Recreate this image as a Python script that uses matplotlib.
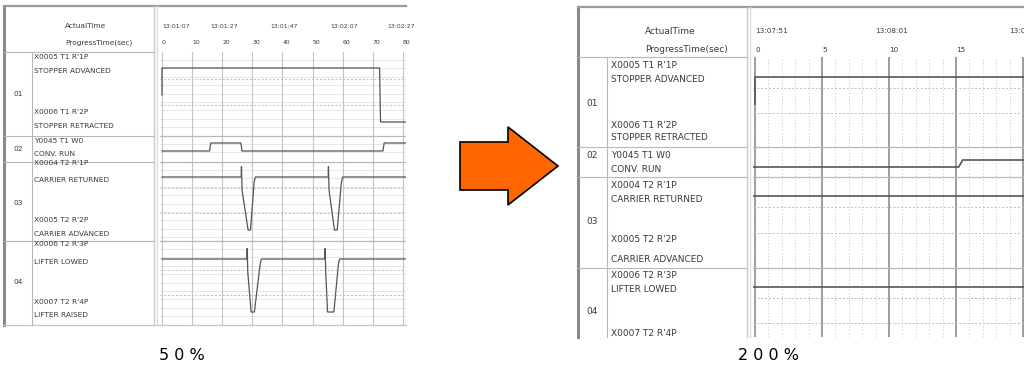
import numpy as np
import matplotlib.pyplot as plt
from matplotlib.patches import Polygon

W, H = 1024, 365

# ---- data ----
row_ids = ["01", "02", "03", "04"]

left_ticks = [0, 10, 20, 30, 40, 50, 60, 70, 80]
left_clock_pos = [0, 16, 36, 56, 75]
left_clock = ["13:01:07", "13:01:27", "13:01:47", "13:02:07", "13:02:27"]
left_labels = [
    ["X0005 T1 R'1P", "STOPPER ADVANCED", "X0006 T1 R'2P", "STOPPER RETRACTED"],
    ["Y0045 T1 W0", "CONV. RUN"],
    ["X0004 T2 R'1P", "CARRIER RETURNED", "X0005 T2 R'2P", "CARRIER ADVANCED"],
    ["X0006 T2 R'3P", "LIFTER LOWED", "X0007 T2 R'4P", "LIFTER RAISED"],
]
right_ticks = [0, 5, 10, 15, 20]
right_clock_pos = [0, 9, 19]
right_clock = ["13:07:51", "13:08:01", "13:08:11"]
right_labels = [
    ["X0005 T1 R'1P", "STOPPER ADVANCED", "X0006 T1 R'2P", "STOPPER RETRACTED"],
    ["Y0045 T1 W0", "CONV. RUN"],
    ["X0004 T2 R'1P", "CARRIER RETURNED", "X0005 T2 R'2P", "CARRIER ADVANCED"],
    ["X0006 T2 R'3P", "LIFTER LOWED", "X0007 T2 R'4P", "LIFTER RAISED"],
]

# signal traces: time (sec) and state (1 = upper label, 0 = lower label)
l_stop_t = [0, 0, 72.3, 72.6, 82]
l_stop_s = [0.5, 1, 1, 0, 0]
l_conv_t = [0, 15.8, 16.2, 26.2, 26.6, 73.4, 73.8, 82]
l_conv_s = [0, 0, 1, 1, 0, 0, 1, 1]
l_carr_t = [0, 26.3, 26.4, 26.6, 28.6, 29.4, 30.6, 31.0, 55.2, 55.3, 55.5, 57.3, 58.2, 59.6, 60.0, 82]
l_carr_s = [1, 1, 1.2, 0.75, 0, 0, 0.9, 1, 1, 1.2, 0.75, 0, 0, 0.9, 1, 1]
l_lift_t = [0, 28.2, 28.3, 28.5, 29.6, 30.7, 32.6, 33.0, 54.1, 54.2, 54.4, 55.0, 57.1, 58.6, 59.0, 82]
l_lift_s = [1, 1, 1.2, 0.75, 0, 0, 0.9, 1, 1, 1.2, 0.75, 0, 0, 0.9, 1, 1]

r_stop_t = [0, 0, 21]
r_stop_s = [0.5, 1, 1]
r_conv_t = [-0.2, 15.2, 15.5, 21]
r_conv_s = [0, 0, 1, 1]
r_carr_t = [-0.2, 21]
r_carr_s = [1, 1]
r_lift_t = [-0.2, 21]
r_lift_s = [1, 1]

left_sig = [(l_stop_t, l_stop_s), (l_conv_t, l_conv_s), (l_carr_t, l_carr_s), (l_lift_t, l_lift_s)]
right_sig = [(r_stop_t, r_stop_s), (r_conv_t, r_conv_s), (r_carr_t, r_carr_s), (r_lift_t, r_lift_s)]

# ---- screen layout (pixels) ----
left_lay = dict(x0=4, x1=406, y0=6, y1=325, numcol=32, sep=154, cx0=160, hb=52,
                rows=[52, 136, 162, 241, 325],
                levels=[(68, 122), (143, 151), (177, 230), (259, 312)],
                lines=[[57, 71, 112, 126], [141, 154], [163, 180, 220, 234], [244, 262, 302, 315]],
                numy=[94, 149, 203, 282], tx=34, hx=65, hy=(26, 43),
                t0=162, pps=3.01, fs=5.3, cfs=4.4, grid_major=10, grid_minor=None,
                ticks=left_ticks, clock_pos=left_clock_pos, clock=left_clock,
                labels=left_labels, sig=left_sig, lw=0.9, bottom=True)
right_lay = dict(x0=578, x1=1024, y0=7, y1=337, numcol=607, sep=747, cx0=753, hb=57,
                 rows=[57, 147, 177, 268, 337],
                 levels=[(77, 130), (160, 167), (196, 250), (287, 340)],
                 lines=[[65, 80, 125, 138], [155, 170], [185, 200, 240, 260], [275, 289, 333, 346]],
                 numy=[103, 155, 222, 312], tx=611, hx=645, hy=(31, 50),
                 t0=755, pps=13.4, fs=6.5, cfs=5.2, grid_major=5, grid_minor=1,
                 ticks=right_ticks, clock_pos=right_clock_pos, clock=right_clock,
                 labels=right_labels, sig=right_sig, lw=1.2, bottom=False)

fig = plt.figure(figsize=(W / 100, H / 100), dpi=100)
bg = fig.add_axes([0, 0, 1, 1])
bg.set_xlim(0, W)
bg.set_ylim(H, 0)
bg.axis('off')

txt = '#3a3a3a'
frame = '#b8b8b8'


def draw_panel(L):
    # outer frame
    bg.plot([L['x0'], L['x0']], [L['y0'], L['y1']], color='#8a8a8a', lw=2.2)
    bg.plot([L['x0'], L['x1']], [L['y0'], L['y0']], color='#9a9a9a', lw=1.6)
    if L['bottom']:
        bg.plot([L['x0'], L['x1']], [L['y1'], L['y1']], color='#c8c8c8', lw=1.0)
    # label column separators
    bg.plot([L['sep'], L['sep']], [L['y0'], L['y1']], color='#c8c8c8', lw=1.0)
    bg.plot([L['sep'] + 3, L['sep'] + 3], [L['y0'], L['y1']], color='#dcdcdc', lw=1.0)
    bg.plot([L['numcol'], L['numcol']], [L['hb'], L['y1']], color=frame, lw=0.8)
    for y in L['rows'][:-1]:
        bg.plot([L['x0'], L['sep']], [y, y], color=frame, lw=0.8)
    bg.text(L['hx'], L['hy'][0], 'ActualTime', fontsize=L['fs'], color=txt, va='center')
    bg.text(L['hx'], L['hy'][1], 'ProgressTime(sec)', fontsize=L['fs'], color=txt, va='center')
    for rid, ny in zip(row_ids, L['numy']):
        bg.text((L['x0'] + L['numcol']) / 2, ny, rid, fontsize=L['fs'], color=txt,
                ha='center', va='center')
    for labs, ys in zip(L['labels'], L['lines']):
        for s, y in zip(labs, ys):
            if y < L['y1'] - 2:
                bg.text(L['tx'], y, s, fontsize=L['fs'], color=txt, va='center')

    # chart area: x in seconds, y in screen pixels
    cx1 = L['x1']
    ax = fig.add_axes([L['cx0'] / W, 1 - L['y1'] / H, (cx1 - L['cx0']) / W, (L['y1'] - L['hb']) / H])
    ax.set_xlim((L['cx0'] - L['t0']) / L['pps'], (cx1 - L['t0']) / L['pps'])
    ax.set_ylim(L['y1'], L['hb'])
    ax.axis('off')
    tmax = (cx1 - L['t0']) / L['pps']

    # grid
    if L['grid_minor']:
        for t in np.arange(0, tmax, L['grid_minor']):
            ax.axvline(t, color='#c4c4c4', lw=0.6, ls=(0, (1.5, 2.5)))
    else:
        for y0, y1 in zip(L['rows'][:-1], L['rows'][1:]):
            for y in np.arange(y0 + 8, y1 - 3, 8.4):
                ax.axhline(y, color='#e4e4e4', lw=0.6)
    for t in np.arange(0, tmax, L['grid_major']):
        ax.axvline(t, color='#8f8f8f' if L['grid_minor'] else '#c4c4c4',
                   lw=1.2 if L['grid_minor'] else 0.8)
    for y in L['rows'][1:-1]:
        ax.axhline(y, color=frame, lw=0.9)
    for (hi, lo) in L['levels']:
        if lo - hi > 20:
            for f in (0.2, 0.68):
                ax.axhline(hi + f * (lo - hi), color='#bdbdbd', lw=0.7, ls=(0, (2, 2)))

    # signals
    for (t, s), (hi, lo) in zip(L['sig'], L['levels']):
        y = lo + np.array(s) * (hi - lo)
        ax.plot(t, y, color='#555555', lw=L['lw'], solid_joinstyle='miter')

    # header: clock times and progress ticks (the right-most ones run off the screenshot edge)
    for t, c in zip(L['clock_pos'], L['clock']):
        ax.text(t, L['hy'][0], c, fontsize=L['cfs'], color=txt, va='center', ha='left', clip_on=False)
    for t in L['ticks']:
        if t <= tmax:
            ax.text(t, L['hy'][1], str(t), fontsize=L['cfs'], color=txt, va='center', ha='left',
                    clip_on=False)
    return ax


draw_panel(left_lay)
draw_panel(right_lay)

# orange arrow between the two views
arrow = [(460, 142), (508, 142), (508, 127), (558, 166), (508, 205), (508, 190), (460, 190)]
bg.add_patch(Polygon(arrow, closed=True, facecolor='#ff6600', edgecolor='black', lw=1.2))

bg.text(182, 355, '5 0 %', fontsize=11.5, ha='center', va='center',
        family=['Liberation Sans Narrow', 'DejaVu Sans'])
bg.text(768, 355, '2 0 0 %', fontsize=11.5, ha='center', va='center',
        family=['Liberation Sans Narrow', 'DejaVu Sans'])

fig.savefig('out.png', dpi=100)
